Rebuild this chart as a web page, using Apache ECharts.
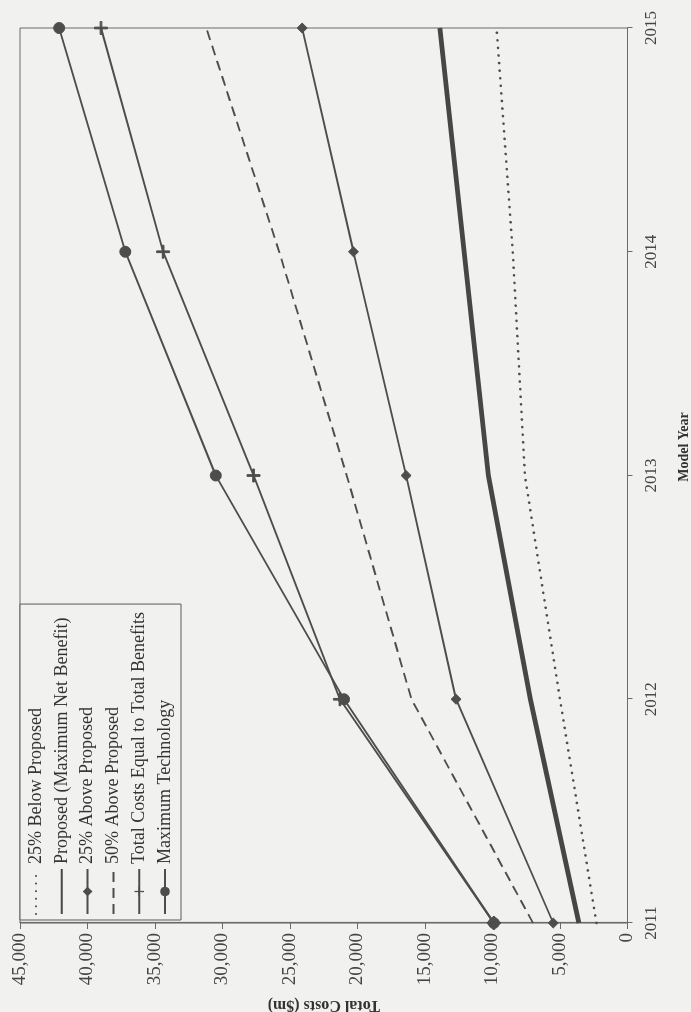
<!DOCTYPE html>
<html>
<head>
<meta charset="utf-8">
<script src="https://cdn.jsdelivr.net/npm/echarts@6/dist/echarts.min.js"></script>
<style>
  html, body { margin: 0; padding: 0; width: 691px; height: 1012px; overflow: hidden; background: #f1f1ef; }
  /* The chart is laid out landscape and turned a quarter turn counter-clockwise onto the page */
  #chart {
    position: absolute; left: 0; top: 0;
    width: 1012px; height: 691px;
    transform-origin: 0 0;
    transform: translate(0px, 1012px) rotate(-90deg);
  }
</style>
</head>
<body>
<div id="chart"></div>
<script>
// Model years
const years = ['2011', '2012', '2013', '2014', '2015'];

// Total costs by alternative ($ millions)
const below25 = [2300, 5000, 7600, 8500, 9700];
const proposed = [3600, 7200, 10300, 12100, 13900];
const above25 = [5500, 12700, 16400, 20300, 24100];
const above50 = [7000, 16000, 20800, 25800, 31200];
const costsEqualBenefits = [9900, 21300, 27700, 34400, 39000];
const maxTechnology = [9900, 21000, 30500, 37200, 42100];

// Value axis ticks
const costMin = 0, costMax = 45000, costStep = 5000;

const ink = '#4d4d4d';
const serif = "'Liberation Serif', 'Times New Roman', serif";
const plusPath = 'path://M4.35,0H5.65V10H4.35ZM0,4.35H10V5.65H0Z';

const chart = echarts.init(document.getElementById('chart'), null, { renderer: 'canvas' });

function lineSeries(name, data, extra) {
  return Object.assign({
    name: name,
    type: 'line',
    data: data,
    symbol: 'none',
    showSymbol: true,
    animation: false,
    lineStyle: { color: ink, width: 1.9 },
    itemStyle: { color: ink, borderColor: ink },
    emphasis: { disabled: true }
  }, extra);
}

// Line-only entries get no marker in the legend key
const noMarker = { opacity: 0 };

chart.setOption({
  backgroundColor: '#f1f1ef',
  animation: false,
  textStyle: { fontFamily: serif },
  grid: {
    left: 89, right: 28, top: 20, bottom: 63.5,
    outerBoundsMode: 'none',
    containLabel: false,
    show: true, borderColor: '#6a6a6a', borderWidth: 1, backgroundColor: 'transparent'
  },
  legend: {
    orient: 'vertical',
    left: 92, top: 20,
    padding: [7, 8, 7, 5],
    itemGap: 7.8,
    itemWidth: 45,
    itemHeight: 12,
    backgroundColor: '#f1f1ef',
    borderColor: '#5a5a5a',
    borderWidth: 1,
    selectedMode: false,
    textStyle: { fontFamily: serif, fontSize: 18, color: '#333' },
    data: [
      { name: '25% Below Proposed', itemStyle: noMarker },
      { name: 'Proposed (Maximum Net Benefit)', itemStyle: noMarker },
      { name: '25% Above Proposed' },
      { name: '50% Above Proposed', itemStyle: noMarker },
      { name: 'Total Costs Equal to Total Benefits' },
      { name: 'Maximum Technology' }
    ]
  },
  xAxis: {
    type: 'category',
    data: years,
    boundaryGap: false,
    name: 'Model Year',
    nameLocation: 'middle',
    nameGap: 50,
    nameTextStyle: { fontFamily: serif, fontWeight: 'bold', fontSize: 14, color: '#333', padding: [0, 0, 0, 57] },
    axisLine: { lineStyle: { color: '#6a6a6a', width: 1.2 } },
    axisTick: { show: true, length: 5, alignWithLabel: true, lineStyle: { color: '#6a6a6a' } },
    axisLabel: { fontFamily: serif, fontSize: 17, color: '#444', margin: 16 },
    splitLine: { show: false }
  },
  yAxis: {
    type: 'value',
    min: costMin, max: costMax, interval: costStep,
    name: 'Total Costs ($m)',
    nameLocation: 'middle',
    nameGap: 74,
    nameTextStyle: { fontFamily: serif, fontWeight: 'bold', fontSize: 16, color: '#333' },
    axisLine: { show: true, lineStyle: { color: '#6a6a6a', width: 1.2 } },
    axisTick: { show: true, length: 6, lineStyle: { color: '#6a6a6a' } },
    axisLabel: {
      fontFamily: serif, fontSize: 19, color: '#444', margin: 10,
      formatter: v => v.toLocaleString('en-US')
    },
    splitLine: { show: false }
  },
  series: [
    lineSeries('25% Below Proposed', below25, {
      lineStyle: { color: ink, width: 2.6, type: [0.1, 7.5], cap: 'round' }
    }),
    lineSeries('Proposed (Maximum Net Benefit)', proposed, {
      lineStyle: { color: '#464646', width: 4.8 }
    }),
    lineSeries('25% Above Proposed', above25, {
      symbol: 'diamond', symbolSize: 10
    }),
    lineSeries('50% Above Proposed', above50, {
      lineStyle: { color: ink, width: 1.9, type: [10, 6] }
    }),
    lineSeries('Total Costs Equal to Total Benefits', costsEqualBenefits, {
      symbol: plusPath, symbolSize: 13
    }),
    lineSeries('Maximum Technology', maxTechnology, {
      symbol: 'circle', symbolSize: 11
    })
  ]
});
</script>
</body>
</html>
